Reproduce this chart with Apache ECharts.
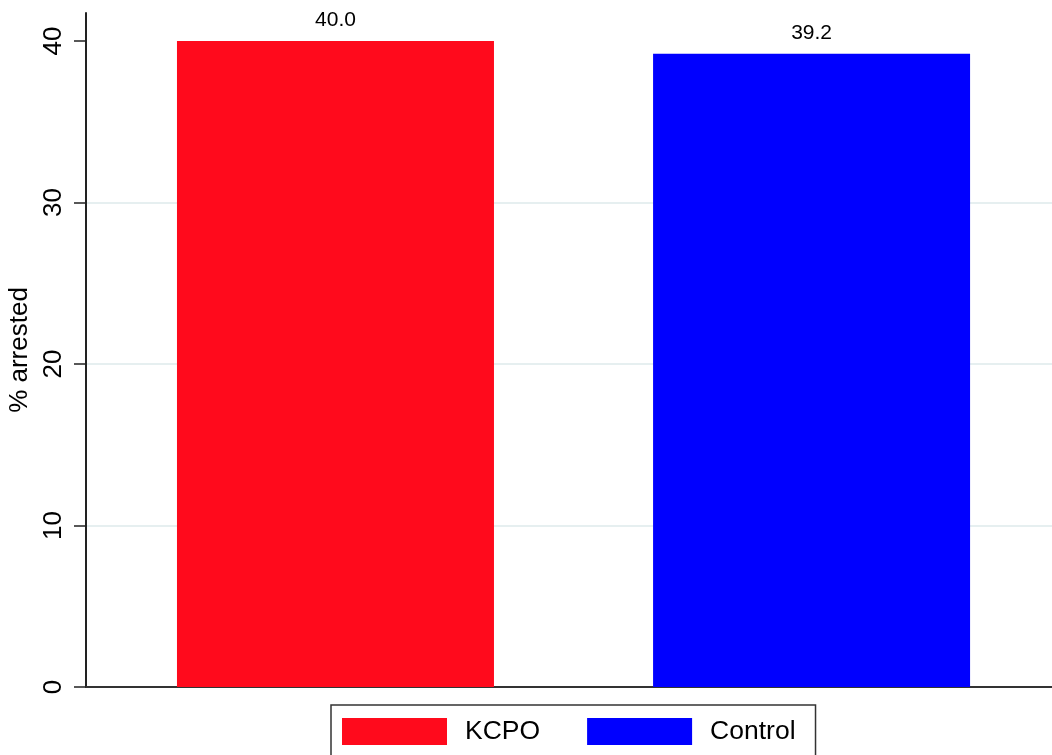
<!DOCTYPE html>
<html><head><meta charset="utf-8">
<script src="https://cdn.jsdelivr.net/npm/echarts@6/dist/echarts.min.js"></script>
<style>html,body{margin:0;padding:0;background:#fff}#c{width:1052px;height:755px}</style>
</head><body><div id="c"></div>
<script>
const groups = ['KCPO', 'Control'];
const groupPos = [1, 2];
const arrested = [40.0, 39.2];
const yTicks = [0, 10, 20, 30, 40];
const colors = ['#ff0a1c', '#0000ff'];

const FONT = 'Liberation Sans, Arial, sans-serif';
const chart = echarts.init(document.getElementById('c'));
const series = groups.map((g, i) => ({
  name: g,
  type: 'bar',
  data: [[groupPos[i], arrested[i]]],
  barWidth: 317,
  barGap: '-100%',
  itemStyle: { color: colors[i] },
  label: {
    show: true, position: 'top', distance: 10,
    formatter: p => p.value[1].toFixed(1),
    fontFamily: FONT, fontSize: 21, color: '#000'
  }
}));

chart.setOption({
  animation: false,
  grid: { left: 86, right: 0, top: 13, bottom: 68, outerBoundsMode: 'none', containLabel: false },
  xAxis: {
    type: 'value', min: 0.476, max: 2.505,
    axisLine: { show: true, onZero: false, lineStyle: { color: '#333', width: 2 } },
    axisTick: { show: false }, axisLabel: { show: false }, splitLine: { show: false }
  },
  yAxis: {
    type: 'value', min: 0, max: 41.73, interval: 10,
    name: '% arrested', nameLocation: 'middle', nameGap: 50, nameRotate: 90,
    nameTextStyle: { fontFamily: FONT, fontSize: 26, color: '#000' },
    axisLine: { show: true, lineStyle: { color: '#222', width: 2 } },
    axisTick: { show: true, length: 12, lineStyle: { color: '#222', width: 1.5 },
      customValues: yTicks },
    axisLabel: {
      rotate: 90, margin: 19, fontSize: 26, color: '#000',
      fontFamily: FONT,
      customValues: yTicks
    },
    splitLine: { show: true, showMaxLine: false, lineStyle: { color: '#e6eff0', width: 2 } }
  },
  legend: {
    data: groups, left: 331, top: 705,
    icon: 'rect', itemWidth: 105, itemHeight: 27, itemGap: 47,
    padding: [13, 20, 20, 11],
    borderColor: '#333', borderWidth: 1.5,
    textStyle: { fontFamily: FONT, fontSize: 26.5, color: '#000', padding: [0, 0, 0, 13] }
  },
  series: series
});
</script></body></html>
